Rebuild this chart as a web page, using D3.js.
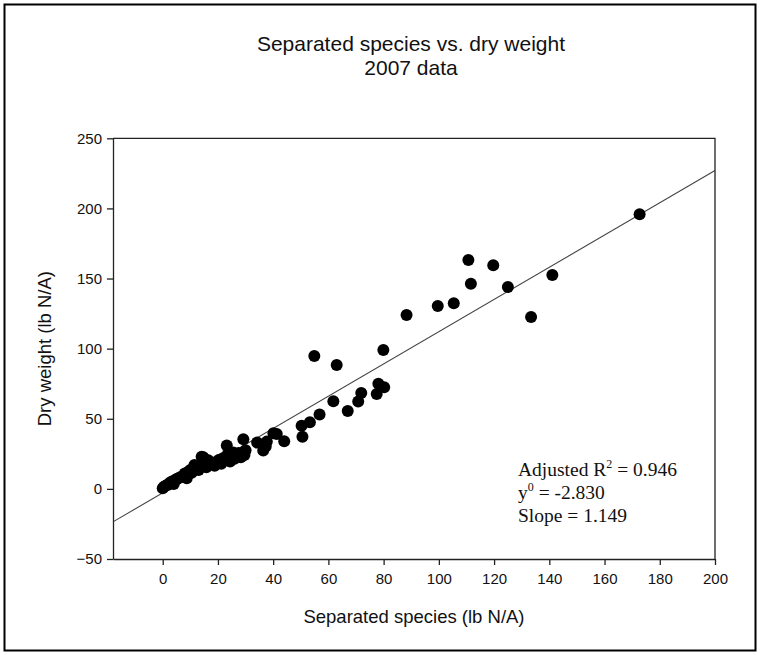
<!DOCTYPE html>
<html>
<head>
<meta charset="utf-8">
<script src="https://cdn.jsdelivr.net/npm/d3@7"></script>
<style>
  html, body { margin: 0; padding: 0; background: #fff; }
  svg { display: block; }
</style>
</head>
<body>
<svg id="chart" width="761" height="655"></svg>
<script>
// ---- data ----
const titleLines = ["Separated species vs. dry weight", "2007 data"];
const xLabel = "Separated species (lb N/A)";
const yLabel = "Dry weight (lb N/A)";
const xTicks = [0, 20, 40, 60, 80, 100, 120, 140, 160, 180, 200];
const yTicks = [-50, 0, 50, 100, 150, 200, 250];
const separatedSpecies = [
  0, 0.5, 1.2, 2.0, 2.4, 3.3, 4.0, 4.5, 5.1, 5.7, 6.5, 7.5, 8.0, 8.7, 9.3, 10.0,
  10.5, 11.1, 11.5, 12.2, 13.0, 13.5, 14.1, 14.7, 15.2, 15.8, 16.5, 17.0, 18.0,
  18.8, 19.6, 20.5, 21.2, 22.0, 22.6, 23.2, 23.5, 24.4, 24.8, 25.5, 26.0, 26.8,
  27.5, 28.3, 29.2, 29.6, 30.0, 34.2, 36.4, 37.3, 37.7, 40.1, 41.3, 44.0, 50.3,
  50.6, 53.3, 56.8, 54.9, 61.8, 63.0, 67.0, 70.8, 71.9, 77.5, 78.1, 80.2, 79.9,
  88.3, 99.6, 105.4, 110.7, 111.6, 119.7, 125.0, 133.4, 141.1, 172.7
];
const dryWeight = [
  0.5, 1.5, 2.5, 2.9, 4.1, 5.2, 3.5, 6.4, 7.1, 7.6, 8.5, 8.8, 11.0, 7.6, 12.3, 13.5,
  11.5, 14.7, 17.1, 16.0, 13.5, 17.1, 23.0, 22.6, 18.0, 15.5, 20.5, 17.5, 18.5,
  16.5, 19.5, 20.7, 18.0, 22.0, 20.5, 30.9, 24.5, 19.5, 23.0, 26.0, 21.5, 23.0,
  25.5, 22.5, 35.4, 24.2, 27.5, 33.0, 27.3, 30.2, 33.7, 39.7, 39.2, 34.0, 45.1,
  37.2, 47.5, 53.1, 94.8, 62.5, 88.4, 55.5, 62.3, 68.4, 67.6, 75.0, 72.5, 99.0,
  124.0, 130.4, 132.3, 163.2, 146.3, 159.4, 143.9, 122.6, 152.5, 195.9
];
const statLines = [
  { pre: "Adjusted R", sup: "2", post: " = 0.946" },
  { pre: "y", sup: "0", post: " = -2.830" },
  { pre: "Slope = 1.149", sup: "", post: "" }
];
const intercept = -2.830;
const slope = 1.149;
const xDomain = [-18, 200];
const yDomain = [-50, 250];

// ---- layout ----
const svg = d3.select("#chart");
const W = 761, H = 655;
const plot = { left: 113, right: 715, top: 138.3, bottom: 559 };

svg.append("rect").attr("x", 0).attr("y", 0).attr("width", W).attr("height", H).attr("fill", "#fff");
svg.append("rect").attr("x", 4.5).attr("y", 4.5).attr("width", 751).attr("height", 646)
  .attr("fill", "none").attr("stroke", "#000").attr("stroke-width", 2);

const x = d3.scaleLinear().domain(xDomain).range([plot.left, plot.right]);
const y = d3.scaleLinear().domain(yDomain).range([plot.bottom, plot.top]);

const sans = "'Liberation Sans', Arial, sans-serif";
const serif = "'Liberation Serif', 'Times New Roman', serif";

// title
svg.append("g").selectAll("text").data(titleLines).join("text")
  .attr("x", 411).attr("y", (d, i) => 51 + i * 23.5)
  .attr("text-anchor", "middle").attr("font-family", sans).attr("font-size", 21)
  .attr("fill", "#111").text(d => d);

// regression line
const fx = v => intercept + slope * v;
svg.append("line")
  .attr("x1", x(xDomain[0])).attr("y1", y(fx(xDomain[0])))
  .attr("x2", x(xDomain[1])).attr("y2", y(fx(xDomain[1])))
  .attr("stroke", "#444").attr("stroke-width", 1.1);

// frame top & right
svg.append("path")
  .attr("d", `M${plot.left},${plot.top}H${plot.right}V${plot.bottom}`)
  .attr("fill", "none").attr("stroke", "#222").attr("stroke-width", 1.3);

// axes
const xAxis = svg.append("g").attr("transform", `translate(0,${plot.bottom})`)
  .call(d3.axisBottom(x).tickValues(xTicks).tickSize(6).tickPadding(5).tickSizeOuter(0));
const yAxis = svg.append("g").attr("transform", `translate(${plot.left},0)`)
  .call(d3.axisLeft(y).tickValues(yTicks).tickSize(6).tickPadding(5).tickSizeOuter(0));
[xAxis, yAxis].forEach(g => {
  g.select(".domain").attr("stroke", "#222").attr("stroke-width", 1.3);
  g.selectAll(".tick line").attr("stroke", "#222").attr("stroke-width", 1.3);
  g.selectAll(".tick text").attr("font-family", sans).attr("font-size", 15).attr("fill", "#111");
});
xAxis.selectAll(".tick text").attr("dy", "0.95em");

// axis titles
svg.append("text").attr("x", 414).attr("y", 623)
  .attr("text-anchor", "middle").attr("font-family", sans).attr("font-size", 18.5)
  .attr("fill", "#111").text(xLabel);
svg.append("text").attr("transform", `translate(51,${(plot.top + plot.bottom) / 2}) rotate(-90)`)
  .attr("text-anchor", "middle").attr("font-family", sans).attr("font-size", 18.5)
  .attr("fill", "#111").text(yLabel);

// points
const pts = separatedSpecies.map((v, i) => ({ x: v, y: dryWeight[i] }));
svg.append("g").selectAll("circle").data(pts).join("circle")
  .attr("cx", d => x(d.x)).attr("cy", d => y(d.y)).attr("r", 6).attr("fill", "#000");

// stats annotation
const st = svg.append("g");
statLines.forEach((l, i) => {
  const t = st.append("text").attr("x", 518).attr("y", 475.5 + i * 23)
    .attr("font-family", serif).attr("font-size", 19.5).attr("fill", "#111");
  t.append("tspan").text(l.pre);
  if (l.sup) {
    t.append("tspan").attr("font-size", 12).attr("dy", -8).text(l.sup);
    t.append("tspan").attr("dy", 8).text(l.post);
  }
});
</script>
</body>
</html>
